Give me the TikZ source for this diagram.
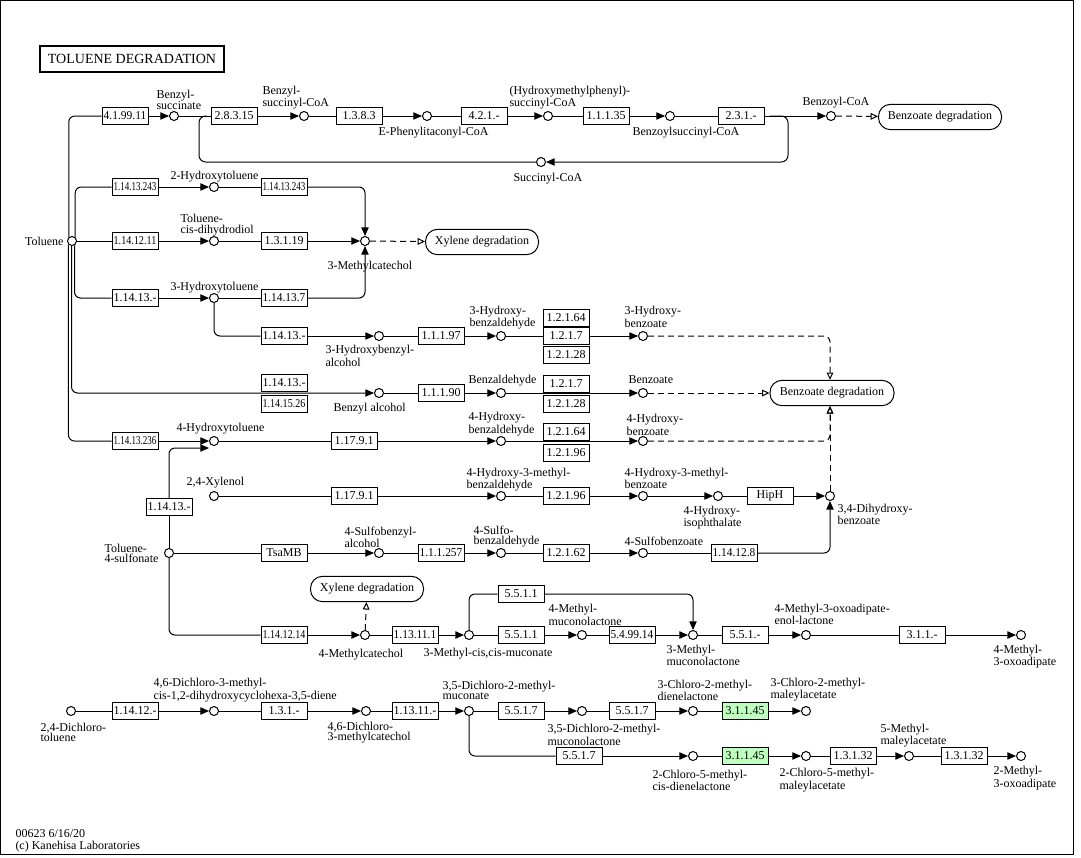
\documentclass[tikz,border=0pt]{standalone}
\usepackage{fontspec}
\setmainfont{Liberation Serif}
\usepackage{graphicx}
\usetikzlibrary{arrows.meta}
\definecolor{hitgreen}{RGB}{191,255,191}
\newcommand\kegg{\fontsize{9}{8}\selectfont}
% squeeze long EC numbers into the box
\newsavebox\ecbox
\newcommand\ec[1]{\sbox\ecbox{#1}\ifdim\wd\ecbox>32pt\pgfmathsetmacro\ecf{32pt/\the\wd\ecbox}\scalebox{\ecf}[1]{#1}\else#1\fi}

\begin{document}
\begin{tikzpicture}[x=0.75pt, y=-0.75pt, line width=0.75pt, font=\kegg,
    cpd/.style={circle, draw, fill=white, minimum size=6.75pt, inner sep=0pt},
    enz/.style={draw, fill=white, minimum width=34.5pt, minimum height=12.75pt, inner sep=0pt},
    hit/.style={enz, fill=hitgreen},
    pmap/.style={draw, rounded corners=9pt, minimum height=19pt, inner sep=0pt},
    lbl/.style={anchor=west, align=left, inner sep=0pt},
    rx/.style={-{Triangle[length=6.5pt, width=5.5pt]}},
    link/.style={dash pattern=on 4.5pt off 3pt, -{Triangle[open, length=5.5pt, width=5pt]}},
    elbow/.style={rounded corners=4.5pt}
]
    \useasboundingbox (0,0) rectangle (1081,857);
    \draw (0.5,0.5) rectangle (1073.5,854.5);
    \node[draw, line width=1.5pt, minimum width=138pt, minimum height=19.5pt,
          font=\fontsize{10.5}{12}\selectfont] (title) at (132,59) {TOLUENE DEGRADATION};

    % compounds
    \node[cpd] (tol) at (72,241) {};
    \node[cpd] (bsucc) at (174,116) {};
    \node[cpd] (bscoa) at (304,116) {};
    \node[cpd] (phcoa) at (427,116) {};
    \node[cpd] (hmcoa) at (548,116) {};
    \node[cpd] (bzscoa) at (670,116) {};
    \node[cpd] (bzcoa) at (831,116) {};
    \node[cpd] (succ) at (541,162) {};
    \node[cpd] (hyt2) at (214,187) {};
    \node[cpd] (tdiol) at (214,241) {};
    \node[cpd] (mcat) at (365,241) {};
    \node[cpd] (hyt3) at (214,298) {};
    \node[cpd] (hbalc) at (379,336) {};
    \node[cpd] (hbald) at (501,336) {};
    \node[cpd] (hbzo3) at (643,336) {};
    \node[cpd] (bzalc) at (379,393) {};
    \node[cpd] (bzald) at (501,393) {};
    \node[cpd] (bzoate) at (643,393) {};
    \node[cpd] (hyt4) at (214,441) {};
    \node[cpd] (hbald4) at (501,441) {};
    \node[cpd] (hbzo4) at (643,441) {};
    \node[cpd] (xyl) at (214,496) {};
    \node[cpd] (hmbald) at (501,496) {};
    \node[cpd] (hmbzo) at (643,496) {};
    \node[cpd] (hipht) at (718,496) {};
    \node[cpd] (dhb) at (830,496) {};
    \node[cpd] (ts) at (169,553) {};
    \node[cpd] (sbalc) at (379,553) {};
    \node[cpd] (sbald) at (501,553) {};
    \node[cpd] (sbzo) at (643,553) {};
    \node[cpd] (mcat4) at (365,635) {};
    \node[cpd] (mmuc) at (469,635) {};
    \node[cpd] (mml4) at (582,635) {};
    \node[cpd] (mml3) at (693,635) {};
    \node[cpd] (enol) at (806,635) {};
    \node[cpd] (oxo4) at (1021,635) {};
    \node[cpd] (dct) at (71,711) {};
    \node[cpd] (dcdiene) at (214,711) {};
    \node[cpd] (dccat) at (366,711) {};
    \node[cpd] (dcmuc) at (469,711) {};
    \node[cpd] (dcml) at (582,711) {};
    \node[cpd] (cdl3) at (693,711) {};
    \node[cpd] (cmal3) at (806,711) {};
    \node[cpd] (cdl2) at (693,756) {};
    \node[cpd] (cmal2) at (806,756) {};
    \node[cpd] (mmal) at (909,756) {};
    \node[cpd] (oxo2) at (1021,756) {};
    \coordinate (hyt4in) at (209,448);
    \coordinate (sin) at (207,116);
    \coordinate (sout) at (770,116);

    % enzymes
    \node[enz] (e41) at (125,116) {\ec{4.1.99.11}};
    \node[enz] (e2831) at (234,116) {2.8.3.15};
    \node[enz] (e1383) at (359,116) {1.3.8.3};
    \node[enz] (e421) at (484,116) {4.2.1.-};
    \node[enz] (e11135) at (606,116) {1.1.1.35};
    \node[enz] (e231) at (741,116) {2.3.1.-};
    \node[enz] (e243a) at (135,187) {\ec{1.14.13.243}};
    \node[enz] (e243b) at (284,187) {\ec{1.14.13.243}};
    \node[enz] (e1211) at (135,241) {\ec{1.14.12.11}};
    \node[enz] (e1319) at (284,241) {1.3.1.19};
    \node[enz] (e1413a) at (135,298) {1.14.13.-};
    \node[enz] (e14137) at (284,298) {\ec{1.14.13.7}};
    \node[enz] (e1413b) at (284,336) {1.14.13.-};
    \node[enz] (e11197) at (441,336) {1.1.1.97};
    \node[enz] (e12164a) at (566,317.5) {1.2.1.64};
    \node[enz] (e1217a) at (566,336) {1.2.1.7};
    \node[enz] (e12128a) at (566,354.5) {1.2.1.28};
    \node[enz] (e1413d) at (284,383) {1.14.13.-};
    \node[enz] (e11526) at (284,404) {\ec{1.14.15.26}};
    \node[enz] (e11190) at (441,393) {1.1.1.90};
    \node[enz] (e1217b) at (566,383.5) {1.2.1.7};
    \node[enz] (e12128b) at (566,403.5) {1.2.1.28};
    \node[enz] (e236) at (135,441) {\ec{1.14.13.236}};
    \node[enz] (e1791a) at (354,441) {1.17.9.1};
    \node[enz] (e12164b) at (566,431.5) {1.2.1.64};
    \node[enz] (e12196a) at (566,452.5) {1.2.1.96};
    \node[enz] (e1413c) at (169,507) {1.14.13.-};
    \node[enz] (e1791b) at (354,496) {1.17.9.1};
    \node[enz] (e12196b) at (566,496) {1.2.1.96};
    \node[enz] (ehiph) at (770,496) {HipH};
    \node[enz] (etsamb) at (284,553) {TsaMB};
    \node[enz] (e111257) at (441,553) {\ec{1.1.1.257}};
    \node[enz] (e12162) at (566,553) {1.2.1.62};
    \node[enz] (e114128) at (734,553) {\ec{1.14.12.8}};
    \node[enz] (e11214) at (284,635) {\ec{1.14.12.14}};
    \node[enz] (e113111) at (415,635) {\ec{1.13.11.1}};
    \node[enz] (e5511a) at (521,635) {5.5.1.1};
    \node[enz] (e5511b) at (521,594) {5.5.1.1};
    \node[enz] (e549914) at (632,635) {\ec{5.4.99.14}};
    \node[enz] (e551x) at (745,635) {5.5.1.-};
    \node[enz] (e311x) at (922,635) {3.1.1.-};
    \node[enz] (e11412x) at (135,711) {1.14.12.-};
    \node[enz] (e131x) at (284,711) {1.3.1.-};
    \node[enz] (e11311x) at (415,711) {1.13.11.-};
    \node[enz] (e5517a) at (521,711) {5.5.1.7};
    \node[enz] (e5517b) at (632,711) {5.5.1.7};
    \node[hit] (e31145a) at (745,711) {3.1.1.45};
    \node[enz] (e5517c) at (579,756) {5.5.1.7};
    \node[hit] (e31145b) at (745,756) {3.1.1.45};
    \node[enz] (e13132a) at (853,756) {1.3.1.32};
    \node[enz] (e13132b) at (964,756) {1.3.1.32};

    % pathway maps
    \node[pmap, minimum width=92.25pt] (mapbz1) at (940,117) {Benzoate degradation};
    \node[pmap, minimum width=84.75pt] (mapxy1) at (482,242) {Xylene degradation};
    \node[pmap, minimum width=93pt] (mapbz2) at (832,393) {Benzoate degradation};
    \node[pmap, minimum width=84.75pt] (mapxy2) at (367,589) {Xylene degradation};

    % compound names
    \node[lbl, anchor=east] (tolt) at (64,241) {Toluene};
    \node[lbl] (bsucct) at (156,100) {Benzyl-\\succinate};
    \node[lbl] (bscoat) at (262,98) {Benzyl-\\succinyl-CoA};
    \node[lbl] (phcoat) at (378,133) {E-Phenylitaconyl-CoA};
    \node[lbl] (hmcoat) at (509,98) {(Hydroxymethylphenyl)-\\succinyl-CoA};
    \node[lbl] (bzscoat) at (632,133) {Benzoylsuccinyl-CoA};
    \node[lbl] (bzcoat) at (802,103) {Benzoyl-CoA};
    \node[lbl] (succt) at (513,179) {Succinyl-CoA};
    \node[lbl] (hyt2t) at (170,177) {2-Hydroxytoluene};
    \node[lbl] (tdiolt) at (180,225) {Toluene-\\cis-dihydrodiol};
    \node[lbl] (mcatt) at (327,267) {3-Methylcatechol};
    \node[lbl] (hyt3t) at (170,288) {3-Hydroxytoluene};
    \node[lbl] (hbalct) at (325,356) {3-Hydroxybenzyl-\\alcohol};
    \node[lbl] (hbaldt) at (469,317.5) {3-Hydroxy-\\benzaldehyde};
    \node[lbl] (hbzo3t) at (624,317) {3-Hydroxy-\\benzoate};
    \node[lbl] (bzalct) at (333,409) {Benzyl alcohol};
    \node[lbl] (bzaldt) at (468,381) {Benzaldehyde};
    \node[lbl] (bzoatet) at (628,380) {Benzoate};
    \node[lbl] (hyt4t) at (176,429) {4-Hydroxytoluene};
    \node[lbl] (hbald4t) at (468,424) {4-Hydroxy-\\benzaldehyde};
    \node[lbl] (hbzo4t) at (626,425) {4-Hydroxy-\\benzoate};
    \node[lbl] (xylt) at (186,483) {2,4-Xylenol};
    \node[lbl] (hmbaldt) at (466,479.5) {4-Hydroxy-3-methyl-\\benzaldehyde};
    \node[lbl] (hmbzot) at (624,478.5) {4-Hydroxy-3-methyl-\\benzoate};
    \node[lbl] (hiphtt) at (683,517.5) {4-Hydroxy-\\isophthalate};
    \node[lbl] (dhbt) at (837,514.5) {3,4-Dihydroxy-\\benzoate};
    \node[lbl] (tst) at (104,553.5) {Toluene-\\4-sulfonate};
    \node[lbl] (sbalct) at (344,537) {4-Sulfobenzyl-\\alcohol};
    \node[lbl] (sbaldt) at (473,536.5) {4-Sulfo-\\benzaldehyde};
    \node[lbl] (sbzot) at (624,541) {4-Sulfobenzoate};
    \node[lbl] (mcat4t) at (318,655) {4-Methylcatechol};
    \node[lbl] (mmuct) at (423,654) {3-Methyl-cis,cis-muconate};
    \node[lbl] (mml4t) at (548,615) {4-Methyl-\\muconolactone};
    \node[lbl] (mml3t) at (666,655.5) {3-Methyl-\\muconolactone};
    \node[lbl] (enolt) at (774,614.5) {4-Methyl-3-oxoadipate-\\enol-lactone};
    \node[lbl] (oxo4t) at (993,656.5) {4-Methyl-\\3-oxoadipate};
    \node[lbl] (dctt) at (40,732.5) {2,4-Dichloro-\\toluene};
    \node[lbl] (dcdienet) at (153,690) {4,6-Dichloro-3-methyl-\\cis-1,2-dihydroxycyclohexa-3,5-diene};
    \node[lbl] (dccatt) at (327,732.5) {4,6-Dichloro-\\3-methylcatechol};
    \node[lbl] (dcmuct) at (442,690.5) {3,5-Dichloro-2-methyl-\\muconate};
    \node[lbl] (dcmlt) at (547,735) {3,5-Dichloro-2-methyl-\\muconolactone};
    \node[lbl] (cdl3t) at (657,690.5) {3-Chloro-2-methyl-\\dienelactone};
    \node[lbl] (cmal3t) at (770,689.5) {3-Chloro-2-methyl-\\maleylacetate};
    \node[lbl] (cdl2t) at (652,780.5) {2-Chloro-5-methyl-\\cis-dienelactone};
    \node[lbl] (cmal2t) at (779,780) {2-Chloro-5-methyl-\\maleylacetate};
    \node[lbl] (mmalt) at (880,735.5) {5-Methyl-\\maleylacetate};
    \node[lbl] (oxo2t) at (993,778) {2-Methyl-\\3-oxoadipate};
    \node[lbl, font=\fontsize{9}{9}\selectfont] (foot) at (15,840.5) {00623 6/16/20\\(c) Kanehisa Laboratories};

    % benzylsuccinate route
    \draw[elbow] (tol.130) |- (e41);
    \draw[rx] (e41) -- (bsucc);
    \draw (bsucc) -- (e2831);
    \draw[rx] (e2831) -- (bscoa);
    \draw (bscoa) -- (e1383);
    \draw[rx] (e1383) -- (phcoa);
    \draw (phcoa) -- (e421);
    \draw[rx] (e421) -- (hmcoa);
    \draw (hmcoa) -- (e11135);
    \draw[rx] (e11135) -- (bzscoa);
    \draw (bzscoa) -- (e231);
    \draw[rx] (e231) -- (bzcoa);
    \draw[link] (bzcoa) -- (mapbz1);
    \draw[rounded corners=5pt] (sin) -| (199,162) -- (succ);
    \draw[rx, rounded corners=5pt] (sout) -| (788,162) -- (succ);

    % methylcatechol routes
    \draw[elbow] (tol.50) |- (e243a);
    \draw[rx] (e243a) -- (hyt2);
    \draw (hyt2) -- (e243b);
    \draw[rx, elbow] (e243b) -| (mcat);
    \draw (tol) -- (e1211);
    \draw[rx] (e1211) -- (tdiol);
    \draw (tdiol) -- (e1319);
    \draw[rx] (e1319) -- (mcat);
    \draw[link] (mcat) -- (mapxy1);
    \draw[elbow] (tol.-60) |- (e1413a);
    \draw[rx] (e1413a) -- (hyt3);
    \draw (hyt3) -- (e14137);
    \draw[rx, elbow] (e14137) -| (mcat);

    % hydroxybenzoate routes
    \draw[elbow] (hyt3) |- (e1413b);
    \draw[rx] (e1413b) -- (hbalc);
    \draw (hbalc) -- (e11197);
    \draw[rx] (e11197) -- (hbald);
    \draw (hbald) -- (e1217a);
    \draw[rx] (e1217a) -- (hbzo3);
    \draw[link, elbow] (hbzo3) -| (dhb |- mapbz2.north);
    \draw[rx, elbow] (tol.-95) |- (bzalc);
    \draw (bzalc) -- (e11190);
    \draw[rx] (e11190) -- (bzald);
    \draw[rx] (bzald) -- (bzoate);
    \draw[link] (bzoate) -- (mapbz2);
    \draw[elbow] (tol.-135) |- (e236);
    \draw[rx] (e236) -- (hyt4);
    \draw (hyt4) -- (e1791a);
    \draw[rx] (e1791a) -- (hbald4);
    \draw[rx] (hbald4) -- (hbzo4);
    \draw[link, elbow] (hbzo4) -| (dhb |- mapbz2.south);
    \draw[link] (dhb) -- (dhb |- mapbz2.south);
    \draw (xyl) -- (e1791b);
    \draw[rx] (e1791b) -- (hmbald);
    \draw (hmbald) -- (e12196b);
    \draw[rx] (e12196b) -- (hmbzo);
    \draw[rx] (hmbzo) -- (hipht);
    \draw (hipht) -- (ehiph);
    \draw[rx] (ehiph) -- (dhb);

    % toluene-4-sulfonate routes
    \draw (ts) -- (e1413c);
    \draw[rx, elbow] (e1413c) |- (hyt4in);
    \draw (ts) -- (etsamb);
    \draw[rx] (etsamb) -- (sbalc);
    \draw (sbalc) -- (e111257);
    \draw[rx] (e111257) -- (sbald);
    \draw (sbald) -- (e12162);
    \draw[rx] (e12162) -- (sbzo);
    \draw (sbzo) -- (e114128);
    \draw[rx, elbow] (e114128) -| (dhb);
    \draw[elbow] (ts) |- (e11214);
    \draw[rx] (e11214) -- (mcat4);
    \draw[link] (mcat4) -- (mapxy2);
    \draw (mcat4) -- (e113111);
    \draw[rx] (e113111) -- (mmuc);
    \draw (mmuc) -- (e5511a);
    \draw[rx] (e5511a) -- (mml4);
    \draw (mml4) -- (e549914);
    \draw[rx] (e549914) -- (mml3);
    \draw[elbow] (mmuc) |- (e5511b);
    \draw[rx, elbow] (e5511b) -| (mml3);
    \draw (mml3) -- (e551x);
    \draw[rx] (e551x) -- (enol);
    \draw (enol) -- (e311x);
    \draw[rx] (e311x) -- (oxo4);

    % dichlorotoluene route
    \draw (dct) -- (e11412x);
    \draw[rx] (e11412x) -- (dcdiene);
    \draw (dcdiene) -- (e131x);
    \draw[rx] (e131x) -- (dccat);
    \draw (dccat) -- (e11311x);
    \draw[rx] (e11311x) -- (dcmuc);
    \draw (dcmuc) -- (e5517a);
    \draw[rx] (e5517a) -- (dcml);
    \draw (dcml) -- (e5517b);
    \draw[rx] (e5517b) -- (cdl3);
    \draw (cdl3) -- (e31145a);
    \draw[rx] (e31145a) -- (cmal3);
    \draw[elbow] (dcmuc) |- (e5517c);
    \draw[rx] (e5517c) -- (cdl2);
    \draw (cdl2) -- (e31145b);
    \draw[rx] (e31145b) -- (cmal2);
    \draw (cmal2) -- (e13132a);
    \draw[rx] (e13132a) -- (mmal);
    \draw (mmal) -- (e13132b);
    \draw[rx] (e13132b) -- (oxo2);
\end{tikzpicture}
\end{document}
